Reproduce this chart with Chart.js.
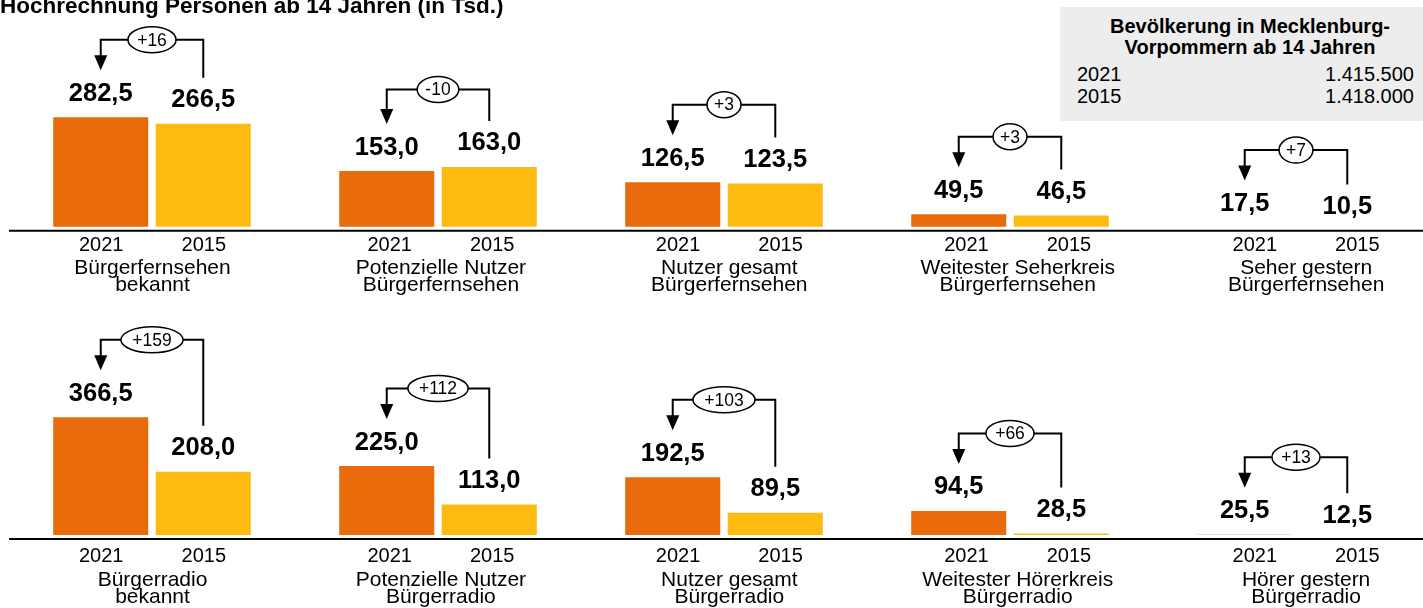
<!DOCTYPE html>
<html lang="de">
<head>
<meta charset="utf-8">
<title>Bürgerfernsehen und Bürgerradio</title>
<script src="https://cdn.jsdelivr.net/npm/chart.js@4.4.1/dist/chart.umd.min.js"></script>
<style>
  html, body { margin: 0; padding: 0; background: #fff; }
  body { position: relative; width: 1423px; height: 608px; overflow: hidden; font-family: "Liberation Sans", Arial, sans-serif; color: #000; }
  #titel { position: absolute; left: 0; top: -5px; font-weight: bold; font-size: 22.5px; line-height: 22px; white-space: nowrap; z-index: 2; }
  #box { position: absolute; left: 1060px; top: 7px; width: 380px; height: 114px; background: #ededed; z-index: 2; }
  #box .kopf { position: absolute; left: 0; top: 9px; width: 380px; text-align: center; font-weight: bold; font-size: 20px; line-height: 21px; }
  #box .zeile { position: absolute; left: 17px; right: 26px; height: 22px; font-size: 20px; line-height: 22px; display: flex; justify-content: space-between; }
  canvas { position: absolute; left: 0; }
  #tv { top: 0; }
  #radio { top: 304px; }
</style>
</head>
<body>
<div id="titel">Hochrechnung Personen ab 14 Jahren (in Tsd.)</div>
<div id="box"><div class="kopf">Bevölkerung in Mecklenburg-<br>Vorpommern ab 14 Jahren</div></div>
<canvas id="tv" width="1440" height="304"></canvas>
<canvas id="radio" width="1440" height="304"></canvas>
<script>
const jahre = ['2021', '2015'];

const tvKategorien = [
  ['Bürgerfernsehen', 'bekannt'],
  ['Potenzielle Nutzer', 'Bürgerfernsehen'],
  ['Nutzer gesamt', 'Bürgerfernsehen'],
  ['Weitester Seherkreis', 'Bürgerfernsehen'],
  ['Seher gestern', 'Bürgerfernsehen']
];
const tv2021 = [282.5, 153.0, 126.5, 49.5, 17.5];
const tv2015 = [266.5, 163.0, 123.5, 46.5, 10.5];

const radioKategorien = [
  ['Bürgerradio', 'bekannt'],
  ['Potenzielle Nutzer', 'Bürgerradio'],
  ['Nutzer gesamt', 'Bürgerradio'],
  ['Weitester Hörerkreis', 'Bürgerradio'],
  ['Hörer gestern', 'Bürgerradio']
];
const radio2021 = [366.5, 225.0, 192.5, 94.5, 25.5];
const radio2015 = [208.0, 113.0, 89.5, 28.5, 12.5];

const bevJahre = ['2021', '2015'];
const bevWerte = ['1.415.500', '1.418.000'];

const schrift = '"Liberation Sans", Arial, sans-serif';
const orange = '#E96B0C';
const gelb = '#FDBB11';

// Bevölkerungskasten oben rechts
const box = document.getElementById('box');
bevJahre.forEach((j, i) => {
  const z = document.createElement('div');
  z.className = 'zeile';
  z.style.top = (55.5 + i * 22) + 'px';
  z.innerHTML = '<span>' + j + '</span><span>' + bevWerte[i] + '</span>';
  box.appendChild(z);
});

function zahl(v) {
  return v.toFixed(1).replace('.', ',');
}

// Werte, Jahreszahlen, Achsenlinie und Differenz-Klammern
const vergleich = {
  id: 'vergleich',
  afterDatasetsDraw(chart, args, o) {
    const ctx = chart.ctx;
    const area = chart.chartArea;
    const ys = chart.scales.y;
    const xs = chart.scales.x;
    const xt = chart.scales.xt;
    const a = chart.getDatasetMeta(0).data;
    const b = chart.getDatasetMeta(1).data;
    const da = chart.data.datasets[0];
    const db = chart.data.datasets[1];

    ctx.save();
    ctx.strokeStyle = '#000';
    ctx.fillStyle = '#000';
    ctx.lineWidth = 2;
    ctx.beginPath();
    ctx.moveTo(area.left, area.bottom + 4);
    ctx.lineTo(chart.width, area.bottom + 4);
    ctx.stroke();

    ctx.textAlign = 'center';
    ctx.textBaseline = 'middle';

    a.forEach((barA, i) => {
      const barB = b[i];
      const wa = da.data[i];
      const wb = db.data[i];
      const la = ys.getPixelForValue(wa) - 23.5;
      const lb = ys.getPixelForValue(wb) - 23.5;

      ctx.fillStyle = '#000';
      ctx.font = 'bold 25.5px ' + schrift;
      ctx.fillText(zahl(wa), barA.x, la);
      ctx.fillText(zahl(wb), barB.x, lb);

      // Jahreszahlen folgen der Beschriftungsachse
      const versatz = xt.getPixelForValue(i) - xs.getPixelForValue(i);
      ctx.font = '20px ' + schrift;
      ctx.fillText(da.label, barA.x + versatz, area.bottom + o.jahrY);
      ctx.fillText(db.label, barB.x + versatz, area.bottom + o.jahrY);

      const oben = Math.min(la, lb) - 54;
      ctx.lineWidth = 2;
      ctx.beginPath();
      ctx.moveTo(barB.x, lb - 22.5);
      ctx.lineTo(barB.x, oben);
      ctx.lineTo(barA.x, oben);
      ctx.lineTo(barA.x, la - 36);
      ctx.stroke();
      ctx.beginPath();
      ctx.moveTo(barA.x, la - 23.5);
      ctx.lineTo(barA.x - 6.5, la - 38.5);
      ctx.lineTo(barA.x + 6.5, la - 38.5);
      ctx.closePath();
      ctx.fill();

      const d = Math.round(wa - wb);
      const txt = (d > 0 ? '+' : '') + d;
      ctx.font = '17.5px ' + schrift;
      const w = ctx.measureText(txt).width * 1.45 + 5;
      const cx = (barA.x + barB.x) / 2;
      ctx.beginPath();
      ctx.ellipse(cx, oben, w / 2, 13, 0, 0, Math.PI * 2);
      ctx.fillStyle = '#fff';
      ctx.fill();
      ctx.lineWidth = 1.5;
      ctx.stroke();
      ctx.fillStyle = '#000';
      ctx.fillText(txt, cx, oben + 1);
    });
    ctx.restore();
  }
};

function balken(id, kategorien, w21, w15, achse) {
  return new Chart(document.getElementById(id), {
    type: 'bar',
    data: {
      labels: kategorien,
      datasets: [
        { label: jahre[0], data: w21, backgroundColor: orange, clip: 0 },
        { label: jahre[1], data: w15, backgroundColor: gelb, clip: 0 }
      ]
    },
    options: {
      responsive: false,
      animation: false,
      layout: { padding: { left: 9, right: 1, top: 20, bottom: 0 } },
      datasets: { bar: { categoryPercentage: 0.717, barPercentage: 0.927 } },
      scales: {
        x: { display: false },
        // Beschriftungsachse: etwas weiter gespreizt als die Balkengruppen
        xt: {
          type: 'linear',
          position: 'bottom',
          offset: false,
          bounds: 'data',
          min: -0.4976,
          max: 4.4608,
          grid: { display: false, drawTicks: false, offset: false },
          border: { display: false },
          afterBuildTicks(s) { s.ticks = kategorien.map((k, i) => ({ value: i })); },
          ticks: {
            color: '#000',
            padding: achse.padding,
            maxRotation: 0,
            autoSkip: false,
            font: { family: schrift, size: 21, lineHeight: 0.82 },
            callback: (v) => kategorien[v]
          },
          afterFit(s) { s.height = achse.hoehe; }
        },
        y: { display: false, min: achse.min, max: achse.max }
      },
      plugins: {
        legend: { display: false },
        tooltip: { enabled: false },
        vergleich: { jahrY: achse.jahrY }
      }
    },
    plugins: [vergleich]
  });
}

balken('tv', tvKategorien, tv2021, tv2015, { min: 19.5, max: 516, hoehe: 77.3, padding: 32.5, jahrY: 18.3 });
balken('radio', radioKategorien, radio2021, radio2015, { min: 24.5, max: 637.5, hoehe: 73, padding: 36.4, jahrY: 21.7 });
</script>
</body>
</html>
